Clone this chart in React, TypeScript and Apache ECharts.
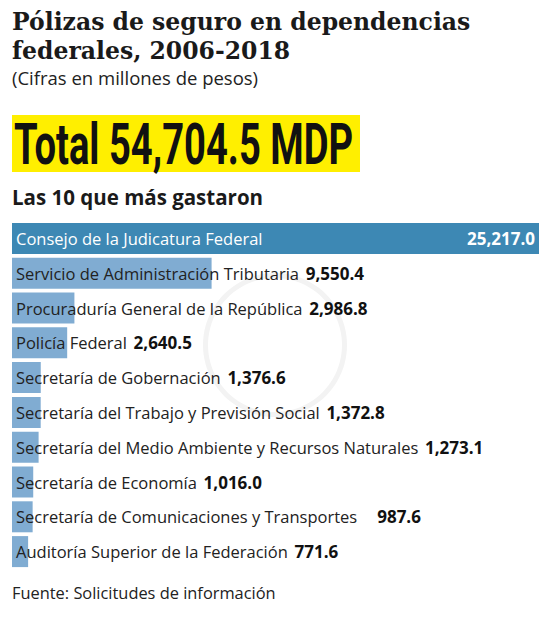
import { useEffect, useRef } from "react";
import * as echarts from "echarts";

const agencies = [
  "Consejo de la Judicatura Federal",
  "Servicio de Administración Tributaria",
  "Procuraduría General de la República",
  "Policía Federal",
  "Secretaría de Gobernación",
  "Secretaría del Trabajo y Previsión Social",
  "Secretaría del Medio Ambiente y Recursos Naturales",
  "Secretaría de Economía",
  "Secretaría de Comunicaciones y Transportes",
  "Auditoría Superior de la Federación",
];
const spent = [25217.0, 9550.4, 2986.8, 2640.5, 1376.6, 1372.8, 1273.1, 1016.0, 987.6, 771.6];
const valueGap = ["", "  ", "  ", "  ", "  ", "  ", "  ", "  ", "      ", "  "];

const title = ["Pólizas de seguro en dependencias", "federales, 2006-2018"];
const subtitle = "(Cifras en millones de pesos)";
const total = "Total 54,704.5 MDP";
const heading = "Las 10 que más gastaron";
const source = "Fuente: Solicitudes de información";

const fmt = (v: number) =>
  v.toLocaleString("en-US", { minimumFractionDigits: 1, maximumFractionDigits: 1 });

const SANS = "'Open Sans', 'Noto Sans', sans-serif";

export default function App() {
  const ref = useRef<HTMLDivElement>(null);

  useEffect(() => {
    document.body.style.margin = "0";
    if (!ref.current) return;
    const chart = echarts.init(ref.current, null, { renderer: "svg" });

    chart.setOption({
      animation: false,
      backgroundColor: "#ffffff",
      grid: { left: 12, right: 12, top: 221, height: 348 },
      xAxis: { type: "value", min: 0, max: 25217, show: false },
      yAxis: { type: "category", data: agencies, inverse: true, show: false },
      graphic: [
        { type: "ring", shape: { cx: 275, cy: 345, r: 72, r0: 67 }, style: { fill: "#f3f3f3" }, z: -10, silent: true },
        {
          type: "text", left: 12, top: 7,
          style: {
            text: title.join("\n"), fontFamily: "DejaVu Serif", fontWeight: "bold", fontSize: 23.5,
            fill: "#1a1a1a", lineHeight: 29,
          },
        },
        {
          type: "text", left: 12, top: 68,
          style: { text: subtitle, fontFamily: SANS, fontSize: 18.5, fill: "#222" },
        },
        { type: "rect", shape: { x: 12, y: 115, width: 348, height: 57 }, style: { fill: "#ffef00" } },
        {
          type: "text", x: 14, y: 145, scaleX: 0.67,
          style: {
            text: total, fontFamily: "Roboto", fontWeight: "bold", fontSize: 57,
            fill: "#111", verticalAlign: "middle",
          },
        },
        {
          type: "text", left: 12, top: 186,
          style: { text: heading, fontFamily: SANS, fontWeight: "bold", fontSize: 20.5, fill: "#1a1a1a" },
        },
        {
          type: "text", left: 12, top: 584,
          style: { text: source, fontFamily: SANS, fontSize: 16.4, fill: "#222" },
        },
      ],
      series: [
        {
          type: "bar",
          barWidth: 31,
          data: spent.map((v, i) => ({
            value: v,
            itemStyle: { color: i === 0 ? "#3d88b4" : "#80acd2" },
            label: {
              show: true,
              position: "insideLeft",
              distance: 4,
              formatter: i === 0 ? "{w|" + agencies[0] + "}" : "{n|" + agencies[i] + "}" + valueGap[i] + "{v|" + fmt(v) + "}",
              rich: {
                n: { fontFamily: SANS, fontSize: 16.5, color: "#222" },
                w: { fontFamily: SANS, fontSize: 16.5, color: "#ffffff" },
                v: { fontFamily: SANS, fontSize: 17, fontWeight: "bold", color: "#111" },
              },
            },
          })),
        },
        {
          type: "bar",
          barWidth: 31,
          barGap: "-100%",
          itemStyle: { color: "transparent" },
          data: spent.map((v, i) => ({
            value: v,
            label: {
              show: i === 0,
              position: "insideRight",
              distance: 4,
              formatter: fmt(v),
              fontFamily: SANS,
              fontSize: 17,
              fontWeight: "bold",
              color: "#ffffff",
            },
          })),
          z: 3,
        },
      ],
    });

    return () => chart.dispose();
  }, []);

  return <div ref={ref} style={{ width: 551, height: 620 }} />;
}
